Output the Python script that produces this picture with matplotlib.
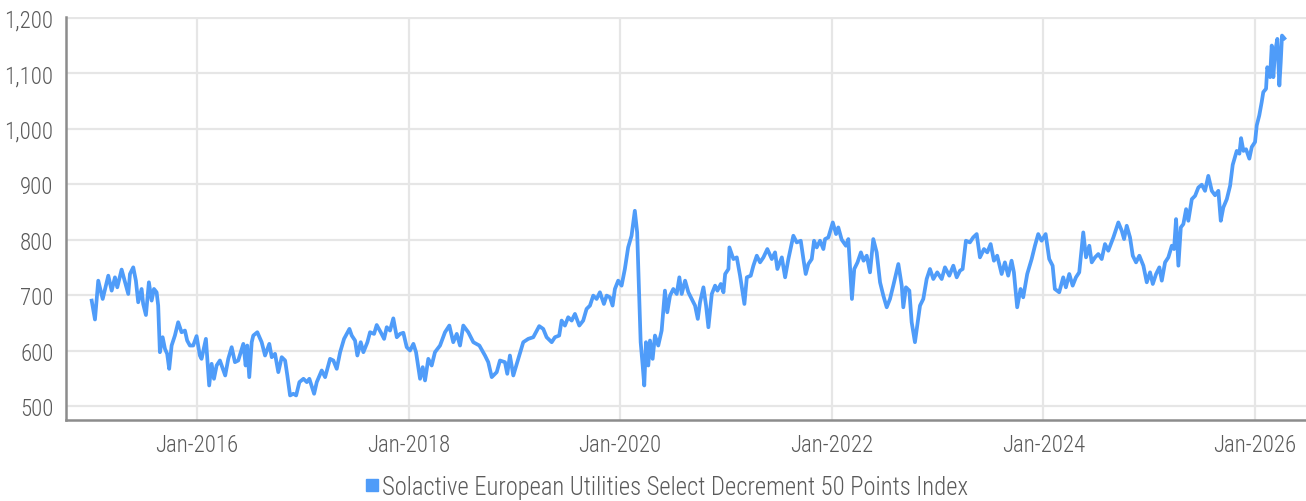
import matplotlib
matplotlib.use("Agg")
import matplotlib.pyplot as plt
import matplotlib.dates as mdates
from matplotlib.lines import Line2D
from matplotlib.ticker import FuncFormatter
import datetime as dt

# ---- data (decimal year, index level) ----
t = [2015.005, 2015.036, 2015.067, 2015.109, 2015.162, 2015.194, 2015.225, 2015.247, 2015.288, 2015.319,
     2015.351, 2015.367, 2015.398, 2015.423, 2015.445, 2015.477, 2015.492, 2015.518, 2015.546, 2015.572,
     2015.594, 2015.619, 2015.634, 2015.650, 2015.676, 2015.698, 2015.719, 2015.738, 2015.761, 2015.792,
     2015.823, 2015.855, 2015.887, 2015.908, 2015.934, 2015.965, 2015.997, 2016.028, 2016.044, 2016.085,
     2016.116, 2016.139, 2016.161, 2016.186, 2016.217, 2016.243, 2016.267, 2016.296, 2016.328, 2016.359,
     2016.390, 2016.438, 2016.460, 2016.475, 2016.494, 2016.517, 2016.532, 2016.570, 2016.611, 2016.643,
     2016.683, 2016.706, 2016.737, 2016.768, 2016.800, 2016.832, 2016.853, 2016.879, 2016.910, 2016.936,
     2016.967, 2017.005, 2017.037, 2017.061, 2017.106, 2017.131, 2017.178, 2017.210, 2017.257, 2017.288,
     2017.320, 2017.352, 2017.389, 2017.440, 2017.462, 2017.493, 2017.515, 2017.547, 2017.572, 2017.610,
     2017.635, 2017.673, 2017.698, 2017.736, 2017.768, 2017.793, 2017.824, 2017.855, 2017.888, 2017.919,
     2017.950, 2017.982, 2018.013, 2018.045, 2018.070, 2018.108, 2018.133, 2018.155, 2018.186, 2018.218,
     2018.249, 2018.297, 2018.344, 2018.385, 2018.422, 2018.455, 2018.486, 2018.517, 2018.564, 2018.612,
     2018.669, 2018.722, 2018.753, 2018.786, 2018.833, 2018.864, 2018.911, 2018.933, 2018.958, 2018.990,
     2019.037, 2019.084, 2019.131, 2019.179, 2019.235, 2019.273, 2019.305, 2019.353, 2019.384, 2019.424,
     2019.447, 2019.478, 2019.509, 2019.542, 2019.573, 2019.614, 2019.651, 2019.683, 2019.715, 2019.746,
     2019.778, 2019.809, 2019.847, 2019.873, 2019.904, 2019.929, 2019.951, 2019.982, 2020.014, 2020.045,
     2020.076, 2020.108, 2020.139, 2020.161, 2020.170, 2020.194, 2020.213, 2020.228, 2020.244, 2020.266,
     2020.282, 2020.307, 2020.329, 2020.360, 2020.392, 2020.423, 2020.445, 2020.471, 2020.502, 2020.534,
     2020.559, 2020.581, 2020.613, 2020.644, 2020.676, 2020.707, 2020.733, 2020.754, 2020.786, 2020.811,
     2020.833, 2020.865, 2020.896, 2020.918, 2020.950, 2020.975, 2020.991, 2021.022, 2021.031, 2021.069,
     2021.101, 2021.132, 2021.173, 2021.196, 2021.233, 2021.258, 2021.290, 2021.321, 2021.353, 2021.390,
     2021.432, 2021.463, 2021.485, 2021.527, 2021.558, 2021.589, 2021.636, 2021.668, 2021.706, 2021.731,
     2021.753, 2021.778, 2021.810, 2021.832, 2021.857, 2021.888, 2021.920, 2021.936, 2021.967, 2022.009,
     2022.040, 2022.061, 2022.093, 2022.133, 2022.156, 2022.190, 2022.212, 2022.243, 2022.275, 2022.300,
     2022.330, 2022.361, 2022.392, 2022.424, 2022.456, 2022.487, 2022.519, 2022.550, 2022.581, 2022.629,
     2022.661, 2022.676, 2022.701, 2022.733, 2022.755, 2022.786, 2022.808, 2022.834, 2022.865, 2022.897,
     2022.928, 2022.960, 2022.997, 2023.039, 2023.070, 2023.111, 2023.149, 2023.181, 2023.212, 2023.237,
     2023.268, 2023.306, 2023.337, 2023.370, 2023.401, 2023.439, 2023.470, 2023.502, 2023.533, 2023.564,
     2023.606, 2023.637, 2023.668, 2023.700, 2023.722, 2023.753, 2023.785, 2023.810, 2023.848, 2023.890,
     2023.921, 2023.952, 2023.984, 2024.022, 2024.056, 2024.088, 2024.109, 2024.150, 2024.188, 2024.213,
     2024.245, 2024.277, 2024.308, 2024.339, 2024.377, 2024.403, 2024.434, 2024.457, 2024.488, 2024.519,
     2024.551, 2024.582, 2024.613, 2024.661, 2024.708, 2024.740, 2024.762, 2024.787, 2024.818, 2024.844,
     2024.875, 2024.906, 2024.944, 2024.976, 2025.007, 2025.033, 2025.064, 2025.095, 2025.118, 2025.149,
     2025.180, 2025.213, 2025.234, 2025.253, 2025.275, 2025.298, 2025.322, 2025.348, 2025.369, 2025.402,
     2025.433, 2025.464, 2025.496, 2025.527, 2025.558, 2025.591, 2025.622, 2025.653, 2025.676, 2025.700,
     2025.733, 2025.764, 2025.789, 2025.827, 2025.852, 2025.868, 2025.890, 2025.915, 2025.946, 2025.969,
     2026.000, 2026.016, 2026.040, 2026.063, 2026.078, 2026.104, 2026.116, 2026.142, 2026.158, 2026.173,
     2026.189, 2026.211, 2026.230, 2026.243, 2026.255, 2026.277]
values = [690, 656, 726, 693, 735, 708, 732, 714, 746, 724,
          702, 738, 750, 726, 687, 711, 684, 664, 723, 690,
          711, 705, 681, 597, 624, 603, 594, 567, 609, 627,
          651, 633, 636, 618, 609, 609, 626, 591, 585, 621,
          537, 576, 549, 573, 582, 568, 555, 585, 606, 579,
          582, 612, 573, 609, 552, 615, 627, 633, 615, 591,
          612, 588, 594, 561, 588, 582, 555, 519, 522, 519,
          543, 549, 543, 549, 522, 543, 564, 552, 585, 582,
          567, 597, 621, 639, 627, 618, 591, 615, 597, 615,
          633, 630, 646, 633, 621, 642, 636, 658, 624, 630,
          632, 606, 600, 612, 597, 549, 570, 546, 585, 573,
          597, 609, 633, 645, 615, 630, 609, 645, 633, 615,
          609, 591, 579, 552, 561, 582, 579, 558, 591, 555,
          585, 615, 621, 624, 644, 639, 624, 615, 624, 627,
          654, 645, 660, 654, 666, 645, 654, 675, 681, 699,
          693, 705, 684, 699, 696, 681, 711, 726, 717, 747,
          786, 807, 852, 813, 759, 615, 573, 537, 615, 573,
          618, 585, 627, 609, 636, 708, 669, 699, 711, 702,
          732, 702, 726, 705, 693, 681, 657, 687, 714, 681,
          642, 702, 717, 708, 720, 705, 738, 747, 786, 765,
          768, 735, 684, 732, 735, 753, 771, 759, 768, 783,
          765, 777, 747, 768, 732, 765, 807, 795, 798, 765,
          738, 756, 765, 798, 786, 798, 783, 801, 804, 831,
          810, 822, 800, 789, 801, 693, 747, 759, 777, 762,
          771, 741, 801, 777, 723, 699, 678, 693, 717, 756,
          717, 678, 714, 708, 651, 615, 645, 681, 693, 729,
          747, 729, 741, 729, 750, 735, 753, 732, 744, 747,
          798, 795, 804, 810, 768, 783, 777, 792, 762, 771,
          738, 759, 735, 762, 741, 678, 711, 696, 738, 765,
          789, 810, 798, 810, 765, 753, 711, 705, 732, 714,
          738, 717, 732, 741, 813, 768, 789, 759, 768, 774,
          765, 792, 780, 804, 831, 816, 801, 825, 804, 771,
          759, 771, 753, 723, 741, 720, 738, 750, 726, 759,
          768, 789, 783, 837, 753, 822, 828, 855, 834, 873,
          879, 894, 899, 888, 915, 888, 880, 888, 834, 858,
          873, 897, 935, 960, 955, 983, 960, 963, 946, 967,
          976, 1006, 1024, 1048, 1066, 1072, 1111, 1093, 1150, 1093,
          1138, 1162, 1078, 1120, 1168, 1163]
series_name = "Solactive European Utilities Select Decrement 50 Points Index"
y_ticks = [500, 600, 700, 800, 900, 1000, 1100, 1200]
x_tick_years = [2016, 2018, 2020, 2022, 2024, 2026]


def to_date(y):
    yr = int(y)
    start = dt.datetime(yr, 1, 1)
    days = (dt.datetime(yr + 1, 1, 1) - start).days
    return start + dt.timedelta(days=(y - yr) * days)


dates = [to_date(v) for v in t]

FONT = ['Roboto Condensed', 'Liberation Sans Narrow', 'DejaVu Sans']
plt.rcParams['font.family'] = FONT
plt.rcParams['font.weight'] = 'light'

LINE = '#4f9cf9'
GRID = '#e6e6e6'
AX = '#8c8c8c'
TXT = '#5a5a5a'

fig = plt.figure(figsize=(13.06, 5.02), dpi=100)
ax = fig.add_axes([66 / 1306, 1 - 421 / 502, 1 - 66 / 1306, (421 - 18) / 502])

ax.plot(dates, values, color=LINE, lw=2.7, solid_joinstyle='round', zorder=3)

ax.set_xlim(to_date(2014.762), to_date(2026.482))
ax.set_ylim(474.7, 1201.5)

ax.set_yticks(y_ticks)
ax.yaxis.set_major_formatter(FuncFormatter(lambda v, p: f"{int(v):,}"))
ax.set_xticks([dt.datetime(y, 1, 1) for y in x_tick_years])
ax.xaxis.set_major_formatter(mdates.DateFormatter('%b-%Y'))

ax.grid(True, color=GRID, lw=1.6, zorder=0)
ax.set_axisbelow(True)
ax.tick_params(length=0, labelsize=16.5, labelcolor=TXT)
ax.tick_params(axis='y', pad=9)
ax.tick_params(axis='x', pad=9)

for s in ['top', 'right']:
    ax.spines[s].set_visible(False)
for s in ['left', 'bottom']:
    ax.spines[s].set_color(AX)
    ax.spines[s].set_linewidth(1.8)

handle = Line2D([], [], color=LINE, marker='s', linestyle='none', markersize=8)
fig.legend([handle], [series_name], loc='center', bbox_to_anchor=(666 / 1306, 1 - 488 / 502),
           frameon=False, fontsize=17.7, labelcolor=TXT, handletextpad=0.05, handlelength=0.7,
           borderaxespad=0)

fig.savefig('out.png', dpi=100)
